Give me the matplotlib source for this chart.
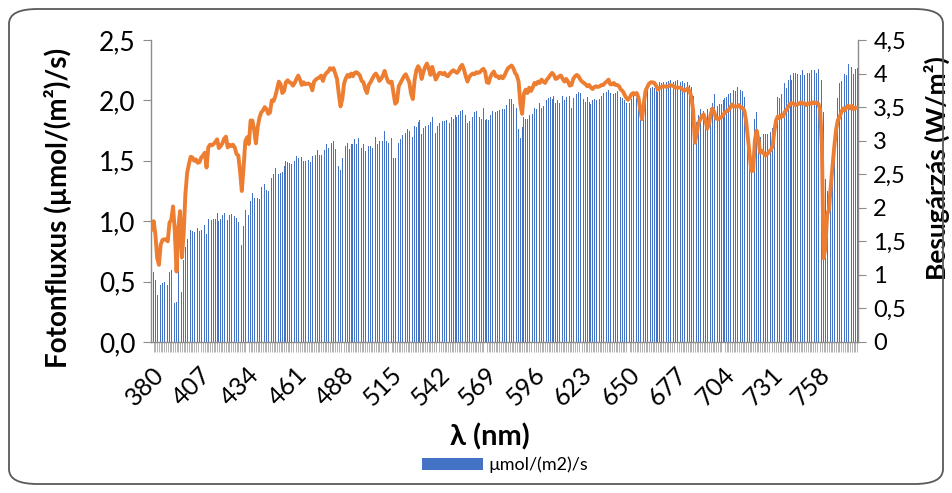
import matplotlib
matplotlib.use('Agg')
import matplotlib.pyplot as plt
from matplotlib.patches import FancyBboxPatch, Patch
import matplotlib.transforms as mtransforms
import numpy as np

# ---------------- data ----------------
wavelength = list(range(380, 781))  # nm, one category per nm

photon_flux = [  # µmol/(m2)/s  (left axis, bars)
    0.48, 0.58, 0.51, 0.39, 0.36, 0.47, 0.49, 0.50, 0.49, 0.47,
    0.58, 0.60, 0.67, 0.32, 0.33, 0.67, 0.66, 0.41, 0.68, 0.79,
    0.85, 0.86, 0.93, 0.92, 0.91, 0.91, 0.94, 0.92, 0.93, 0.97,
    0.97, 0.89, 1.02, 1.01, 1.01, 1.02, 1.02, 1.07, 1.00, 1.02,
    1.05, 1.07, 1.08, 1.01, 1.05, 1.06, 1.07, 1.04, 1.03, 0.99,
    1.02, 0.80, 0.96, 1.09, 1.12, 1.05, 1.17,
    1.23, 1.19, 1.08, 1.19, 1.18, 1.28, 1.28, 1.31, 1.26, 1.25,
    1.38, 1.36, 1.39, 1.44, 1.48, 1.39, 1.40, 1.41, 1.46, 1.50,
    1.49, 1.48, 1.47, 1.50, 1.50, 1.54, 1.52, 1.48, 1.53, 1.50,
    1.50, 1.52, 1.51, 1.49, 1.54, 1.55, 1.55, 1.59, 1.55, 1.55,
    1.61, 1.59, 1.64, 1.61, 1.65, 1.65, 1.66, 1.60, 1.63, 1.46,
    1.42, 1.52, 1.57, 1.62, 1.65, 1.60, 1.64,
    1.64, 1.68, 1.64, 1.69, 1.67, 1.61, 1.64, 1.58, 1.54, 1.62,
    1.62, 1.61, 1.69, 1.70, 1.64, 1.66, 1.68, 1.66, 1.75, 1.66,
    1.65, 1.63, 1.69, 1.52, 1.52, 1.53, 1.65, 1.68, 1.71, 1.68,
    1.73, 1.76, 1.75, 1.58, 1.70, 1.79, 1.78, 1.82, 1.84, 1.72,
    1.77, 1.79, 1.86, 1.80, 1.82, 1.86, 1.77, 1.73, 1.79, 1.81,
    1.80, 1.83, 1.83, 1.84, 1.79, 1.81, 1.86, 1.85,
    1.88, 1.86, 1.88, 1.91, 1.92, 1.88, 1.88, 1.81, 1.83, 1.88,
    1.86, 1.90, 1.91, 1.91, 1.86, 1.85, 1.94, 1.84, 1.85, 1.84,
    1.88, 1.91, 1.94, 1.90, 1.91, 1.92, 1.90, 1.93, 1.93, 1.96,
    1.98, 2.01, 2.01, 1.97, 1.96, 1.94, 1.76, 1.69, 1.78, 1.86,
    1.85, 1.85, 1.88, 1.84, 1.89, 1.94, 1.93, 1.93, 1.98, 1.94,
    1.95, 1.95, 2.00, 2.02, 2.03, 2.01, 2.04, 1.98,
    2.00, 1.98, 2.01, 2.04, 2.00, 2.03, 2.00, 2.04, 1.94, 2.02,
    2.03, 2.05, 2.07, 2.06, 2.05, 2.01, 1.99, 2.03, 1.99, 1.97,
    2.00, 2.01, 2.00, 2.02, 2.01, 2.04, 2.06, 2.04, 2.07, 2.09,
    2.06, 2.08, 2.05, 2.06, 2.08, 2.06, 2.03, 2.02, 2.00, 1.98,
    1.94, 1.98, 2.01, 2.04, 2.04, 2.02, 1.95, 1.84, 1.91, 2.02,
    2.07, 2.10, 2.10, 2.10, 2.11, 2.10, 2.09, 2.07,
    2.15, 2.14, 2.15, 2.15, 2.15, 2.16, 2.17, 2.17, 2.15, 2.16,
    2.17, 2.14, 2.15, 2.16, 2.14, 2.16, 2.15, 2.13, 2.11, 2.04,
    1.70, 1.82, 1.88, 1.93, 1.97, 1.91, 1.88, 1.93, 1.81, 1.94,
    1.98, 2.05, 1.98, 1.95, 1.97, 1.97, 2.00, 2.02, 2.03, 2.05,
    2.06, 2.10, 2.09, 2.08, 2.11, 2.09, 2.09, 2.08, 2.03, 1.88,
    1.75, 1.57, 1.47, 1.52, 1.85, 1.90, 1.72, 1.70,
    1.62, 1.72, 1.72, 1.72, 1.73, 1.74, 1.77, 1.80, 1.96, 2.03,
    2.02, 2.05, 2.05, 2.14, 2.10, 2.17, 2.21, 2.17, 2.23, 2.23,
    2.22, 2.22, 2.21, 2.25, 2.21, 2.26, 2.23, 2.23, 2.25, 2.24,
    2.25, 2.23, 2.26, 2.21, 2.17, 1.90, 1.35, 1.25, 1.10, 1.22,
    1.52, 1.64, 1.80, 2.02, 2.14, 2.16, 2.24, 2.22, 2.21, 2.30,
    2.22, 2.28, 2.22, 2.26, 2.27,
]

irradiance = [  # W/m2 (right axis, line)
    1.67, 1.80, 1.60, 1.25, 1.15, 1.45, 1.52, 1.53, 1.53, 1.50,
    1.78, 1.82, 2.02, 1.65, 1.05, 1.70, 1.95, 1.26, 1.60, 2.20,
    2.52, 2.65, 2.76, 2.75, 2.70, 2.72, 2.67, 2.68, 2.75, 2.78,
    2.82, 2.60, 2.90, 2.94, 2.93, 2.95, 2.98, 3.02, 2.89, 2.92,
    2.96, 3.03, 3.06, 2.90, 2.94, 2.92, 2.94, 2.90, 2.80, 2.78,
    2.55, 2.25, 2.60, 2.99, 3.05, 2.95, 3.30,
    3.30, 3.16, 2.96, 3.20, 3.34, 3.42, 3.45, 3.50, 3.47, 3.40,
    3.42, 3.60, 3.59, 3.66, 3.77, 3.88, 3.84, 3.71, 3.74, 3.87,
    3.90, 3.87, 3.86, 3.82, 3.86, 3.92, 3.97, 3.91, 3.83, 3.87,
    3.84, 3.85, 3.85, 3.83, 3.75, 3.88, 3.91, 3.93, 3.94, 3.97,
    3.89, 3.97, 4.01, 4.03, 4.08, 4.06, 4.08, 4.00, 3.92, 3.70,
    3.51, 3.62, 3.85, 3.93, 3.98, 3.95, 4.00,
    3.96, 4.01, 4.02, 4.00, 3.97, 3.89, 3.87, 3.77, 3.71, 3.83,
    3.87, 3.92, 3.97, 4.00, 3.96, 3.89, 3.92, 3.97, 4.04, 3.95,
    3.88, 3.86, 3.88, 3.72, 3.55, 3.58, 3.81, 3.86, 3.91, 3.96,
    3.99, 3.93, 3.87, 3.70, 3.62, 3.90, 4.05, 4.11, 4.06, 3.92,
    4.02, 4.10, 4.15, 4.08, 3.98, 4.10, 4.00, 3.91, 3.96, 4.01,
    4.01, 3.99, 4.01, 3.97, 3.96, 4.00, 4.03, 4.05,
    4.03, 4.01, 4.04, 4.10, 4.13, 4.06, 3.96, 3.88, 3.95, 3.98,
    4.00, 3.99, 4.02, 4.01, 4.02, 4.05, 4.07, 4.03, 3.87, 3.86,
    3.95, 4.00, 4.03, 3.96, 3.96, 3.93, 3.96, 3.93, 3.97, 4.03,
    4.08, 4.10, 4.12, 4.08, 4.01, 3.97, 3.88, 3.55, 3.40, 3.70,
    3.76, 3.71, 3.79, 3.74, 3.79, 3.86, 3.84, 3.88, 3.86, 3.91,
    3.88, 3.86, 3.91, 3.94, 3.98, 4.01, 3.98, 3.92,
    3.93, 3.96, 3.97, 3.92, 3.88, 3.92, 3.88, 3.82, 3.83, 3.92,
    3.96, 3.98, 3.96, 3.91, 3.88, 3.86, 3.84, 3.81, 3.83, 3.79,
    3.77, 3.80, 3.81, 3.80, 3.81, 3.83, 3.83, 3.86, 3.88, 3.91,
    3.84, 3.84, 3.86, 3.83, 3.83, 3.81, 3.76, 3.74, 3.69, 3.64,
    3.61, 3.64, 3.69, 3.71, 3.69, 3.71, 3.64, 3.46, 3.32, 3.55,
    3.74, 3.80, 3.85, 3.87, 3.87, 3.86, 3.82, 3.76,
    3.79, 3.80, 3.81, 3.81, 3.80, 3.81, 3.83, 3.82, 3.81, 3.79,
    3.79, 3.79, 3.79, 3.76, 3.74, 3.76, 3.78, 3.74, 3.65, 3.45,
    2.97, 3.10, 3.26, 3.31, 3.37, 3.39, 3.30, 3.18, 3.25, 3.40,
    3.48, 3.42, 3.33, 3.32, 3.34, 3.35, 3.38, 3.42, 3.44, 3.45,
    3.49, 3.54, 3.51, 3.51, 3.51, 3.53, 3.49, 3.49, 3.45, 3.30,
    3.05, 2.80, 2.55, 2.55, 3.00, 3.15, 3.02, 2.82,
    2.85, 2.81, 2.78, 2.80, 2.83, 2.86, 2.91, 3.13, 3.30, 3.36,
    3.34, 3.38, 3.36, 3.43, 3.46, 3.51, 3.55, 3.56, 3.55, 3.53,
    3.54, 3.55, 3.57, 3.55, 3.56, 3.53, 3.55, 3.56, 3.55, 3.57,
    3.56, 3.57, 3.55, 3.47, 2.95, 1.25, 1.40, 1.90, 1.97, 2.30,
    2.60, 2.90, 3.15, 3.30, 3.35, 3.42, 3.48, 3.45, 3.50, 3.52,
    3.48, 3.52, 3.47, 3.49, 3.49,
]

left_ticks = [0.0, 0.5, 1.0, 1.5, 2.0, 2.5]
left_labels = ['0,0', '0,5', '1,0', '1,5', '2,0', '2,5']
right_ticks = [0, 0.5, 1, 1.5, 2, 2.5, 3, 3.5, 4, 4.5]
right_labels = ['0', '0,5', '1', '1,5', '2', '2,5', '3', '3,5', '4', '4,5']
label_step = 27

left_title = 'Fotonfluxus (µmol/(m²)/s)'
right_title = 'Besugárzás (W/m²)'
x_title = 'λ (nm)'
legend_label = 'µmol/(m2)/s'

# ---------------- plot ----------------
plt.rcParams['font.family'] = ['Lato', 'DejaVu Sans']

W, H = 952, 493
fig = plt.figure(figsize=(W / 100, H / 100), dpi=100, facecolor='white')

L, R, T, B = 151, 858, 40, 342
ax = fig.add_axes([L / W, 1 - B / H, (R - L) / W, (B - T) / H])
ax.set_facecolor('none')

xpos = np.arange(len(wavelength))
ax.bar(xpos, photon_flux, width=0.45, color='#4472C4', linewidth=0, zorder=2)
ax.set_xlim(-0.5, len(wavelength) - 0.5)
ax.set_ylim(0, 2.5)
ax.set_yticks(left_ticks)
ax.set_yticklabels(left_labels)

major = xpos[::label_step]
ax.set_xticks(major)
ax.set_xticklabels([str(wavelength[i]) for i in major], rotation=45,
                   ha='right', va='top', rotation_mode='anchor')
ax.set_xticks(xpos, minor=True)
shift = mtransforms.ScaledTranslation(6 / 100, 0, fig.dpi_scale_trans)
for lab in ax.get_xticklabels():
    lab.set_transform(lab.get_transform() + shift)

axis_col = '#8c8c8c'
for s in ['top', 'right']:
    ax.spines[s].set_visible(False)
for s in ['left', 'bottom']:
    ax.spines[s].set_color(axis_col)
    ax.spines[s].set_linewidth(1.0)
ax.tick_params(axis='y', which='major', direction='out', length=6,
               color=axis_col, labelsize=19, pad=5)
ax.tick_params(axis='x', which='major', length=0, labelsize=18, pad=15)
ax.tick_params(axis='x', which='minor', direction='out', length=7,
               color='#a6a6a6', width=0.6)

ax2 = ax.twinx()
ax2.plot(xpos, irradiance, color='#ED7D31', linewidth=2.8,
         solid_joinstyle='round', solid_capstyle='round', zorder=3)
ax2.set_ylim(0, 4.5)
ax2.set_yticks(right_ticks)
ax2.set_yticklabels(right_labels)
for s in ['top', 'left', 'bottom']:
    ax2.spines[s].set_visible(False)
ax2.spines['right'].set_color(axis_col)
ax2.spines['right'].set_linewidth(1.0)
ax2.tick_params(axis='y', direction='out', length=6, color=axis_col,
                labelsize=17, pad=5)

# axis titles
fig.text(58 / W, 1 - 208 / H, left_title, rotation=90, ha='center',
         va='center', fontsize=20, fontweight='bold')
fig.text(937 / W, 1 - 168 / H, right_title, rotation=90, ha='center',
         va='center', fontsize=19, fontweight='bold')
fig.text(490 / W, 1 - 437 / H, x_title, ha='center', va='center',
         fontsize=21, fontweight='bold')

# legend
fig.legend(handles=[Patch(facecolor='#4472C4', edgecolor='none', label=legend_label)],
           loc='center', bbox_to_anchor=(505 / W, 1 - 465 / H), frameon=False,
           fontsize=13, handlelength=3.4, handleheight=0.6, handletextpad=0.3)

# rounded chart border (drawn on top, no fill)
border = FancyBboxPatch((9 / W, 9 / H), (W - 18) / W, (H - 18) / H,
                        boxstyle='round,pad=0,rounding_size=0.03',
                        transform=fig.transFigure, facecolor='none',
                        edgecolor='#595959', linewidth=1.3, zorder=5)
fig.patches.append(border)

fig.savefig('out.png', dpi=100)
